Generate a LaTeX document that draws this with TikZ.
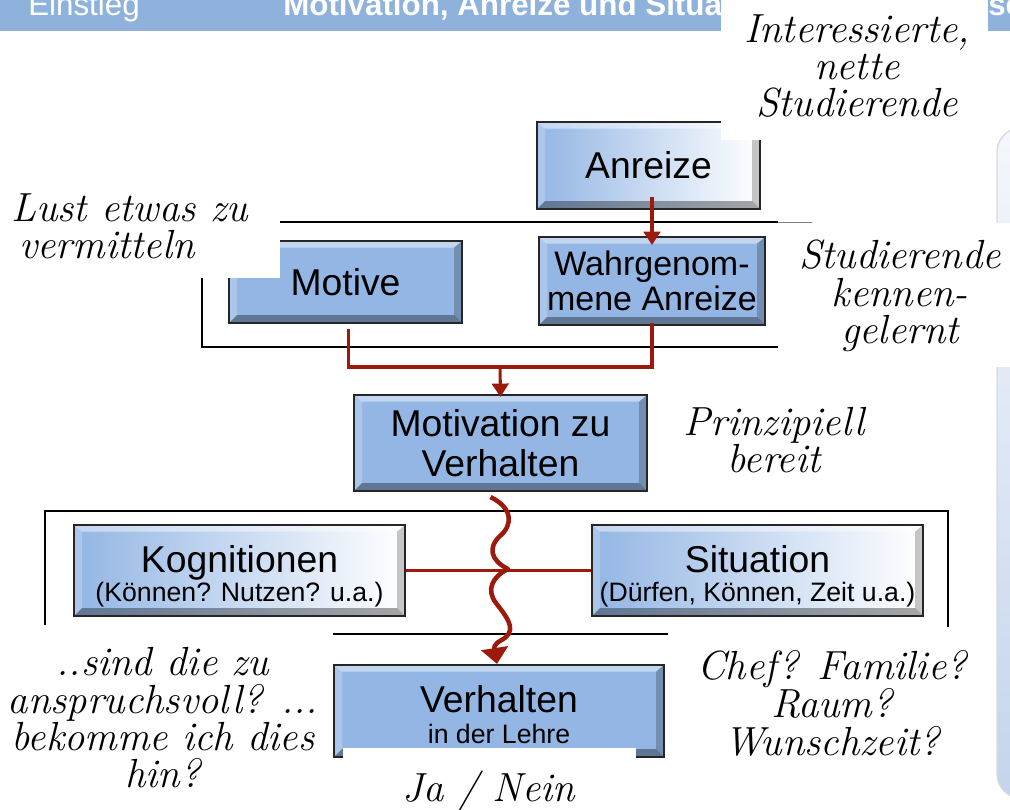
\documentclass[tikz,border=0pt]{standalone}
\usepackage{fontspec}
\newfontfamily\arialfont{Liberation Sans}
\usetikzlibrary{arrows.meta,calc}
\definecolor{boxblue}{HTML}{93B6E4}
\definecolor{boxline}{HTML}{262626}
\definecolor{conred}{HTML}{9C1A0C}
\definecolor{headblue}{HTML}{8FB2DC}
\definecolor{paneltop}{HTML}{F4F7FC}
\definecolor{panelbot}{HTML}{C4D4EC}
\newcommand\boxfont{\arialfont\fontsize{28}{29.5}\selectfont}
\newcommand\subfont{\arialfont\fontsize{20}{22}\selectfont}
\newcommand\notefont{\fontsize{30.5}{28}\selectfont\itshape}
\tikzset{
  bevelbox/.style={draw=boxline, line width=1.6pt, fill=boxblue, inner sep=0pt,
    align=center, font=\boxfont,
    path picture={
      \fill[white,opacity=.45] (path picture bounding box.north west) -- (path picture bounding box.north east)
        -- ([shift={(-6pt,-5pt)}]path picture bounding box.north east) -- ([shift={(6pt,-5pt)}]path picture bounding box.north west) -- cycle;
      \fill[white,opacity=.22] (path picture bounding box.north west) -- (path picture bounding box.south west)
        -- ([shift={(6pt,6pt)}]path picture bounding box.south west) -- ([shift={(6pt,-5pt)}]path picture bounding box.north west) -- cycle;
      \fill[black,opacity=.35] (path picture bounding box.south west) -- (path picture bounding box.south east)
        -- ([shift={(-6pt,6pt)}]path picture bounding box.south east) -- ([shift={(6pt,6pt)}]path picture bounding box.south west) -- cycle;
      \fill[black,opacity=.22] (path picture bounding box.north east) -- (path picture bounding box.south east)
        -- ([shift={(-6pt,6pt)}]path picture bounding box.south east) -- ([shift={(-6pt,-5pt)}]path picture bounding box.north east) -- cycle;
    }},
  gradbox/.style={left color=boxblue, right color=white},
  redline/.style={draw=conred, line width=2.3pt},
  redarrow/.style={redline, -{Triangle[width=12.5pt,length=10pt]}},
  wavy/.style={draw=conred, line width=3.4pt, line join=round, -{Triangle[width=20pt,length=12pt]}},
  blackline/.style={draw=black, line width=2.1pt},
  note/.style={font=\notefont, align=center, inner sep=0pt, text=black},
  headtext/.style={text=white, inner sep=0pt, anchor=base west, font=\arialfont\fontsize{23.5}{23.5}\selectfont},
}
\begin{document}
\begin{tikzpicture}[x=0.75pt,y=-0.75pt]
\useasboundingbox (0,0) rectangle (1010,810);
% header
\fill[headblue] (0,-5) rectangle (1015,31);
\node[headtext] (hd1) at (28,15) {Einstieg};
\node[headtext, font=\arialfont\bfseries\fontsize{23.5}{23.5}\selectfont] (hd2) at (283,15) {Motivation, Anreize und Situa};
% right panel
\shade[top color=paneltop, bottom color=panelbot, draw=gray!30, line width=1pt, rounded corners=18pt] (997,128) rectangle (1060,798);
% black bracket lines
\draw[blackline] (280,222) -- (778,222);
\draw[gray, line width=0.6pt] (778,222) -- (812,222);
\draw[blackline] (202,278) -- (202,347) -- (778,347);
\draw[blackline] (45,625) -- (45,511) -- (948,511) -- (948,627);
\draw[blackline] (333,634) -- (668,634);
% boxes
\node[bevelbox, gradbox, minimum width=167.25pt, minimum height=65.25pt] (anreize) at (648.5,165.5) {Anreize};
\node[bevelbox, font=\arialfont\fontsize{25.5}{26.5}\selectfont, minimum width=169.5pt, minimum height=66pt] (wahr) at (652,281) {Wahrgenom-\\mene Anreize};
\node[bevelbox, minimum width=174.75pt, minimum height=61.5pt] (motive) at (345.5,282) {Motive};
\node[bevelbox, minimum width=219.75pt, minimum height=72pt] (motivation) at (500.5,443) {Motivation zu\\Verhalten};
\node[bevelbox, gradbox, minimum width=248.25pt, minimum height=68.25pt] (kogn) at (239.5,570.5) {\rule{0pt}{29pt}Kognitionen\\[-7.5pt]{\subfont (Können? Nutzen? u.a.)}};
\node[bevelbox, gradbox, minimum width=248.25pt, minimum height=68.25pt] (situation) at (757.5,570.5) {\rule{0pt}{29pt}Situation\\[-7.5pt]{\subfont (Dürfen, Können, Zeit u.a.)}};
\node[bevelbox, minimum width=247.5pt, minimum height=69pt] (verhalten) at (499,711) {\rule{0pt}{26pt}Verhalten\\[-6pt]{\subfont in der Lehre}};
% connectors
\coordinate (j) at (500,367);
\draw[redarrow] ($(anreize.south -| wahr.north)+(0,-13)$) -- ($(wahr.north)+(0,9)$);
\draw[redline] ($(motive.south)+(3,5)$) |- (j);
\draw[redline] ($(wahr.south)+(0,-3)$) |- (j);
\draw[redarrow] (j) -- ($(motivation.north)+(0,3)$);
\draw[redline] (kogn.east) -- (situation.west);
\draw[wavy] ($(motivation.south)+(-10,5)$) .. controls (513,508) and (513,525) .. (500,536)
   .. controls (488,547) and (490,560) .. (508,569)
   .. controls (492,577) and (486,590) .. (496,603)
   .. controls (506,616) and (516,628) .. (506,637)
   .. controls (500,642) and (492,643) .. (495,651) -- ($(verhalten.north)+(-2,0)$);
% white note backgrounds
\fill[white] (721,-5) rectangle (988,140);
\fill[white] (-5,172) rectangle (280,278);
\fill[white] (790,223) rectangle (1015,367);
\fill[white] (343,748) rectangle (636,815);
\node[headtext, font=\arialfont\bfseries\fontsize{23.5}{23.5}\selectfont] (hd3) at (988,15) {se};
% notes
\node[note] (interessierte) at (857,66) {Interessierte,\\nette\\Studierende};
\node[note, align=left, anchor=west] (lust) at (11,226) {Lust etwas zu\\\hspace*{6pt}vermitteln};
\node[note] (studierende) at (900,296) {Studierende\\kennen-\\gelernt};
\node[note] (prinzipiell) at (774,440) {Prinzipiell\\bereit};
\node[note] (sind) at (163,718) {..sind die zu\\anspruchsvoll? ...\\bekomme ich dies\\hin?};
\node[note] (chef) at (832,703) {Chef? Familie?\\Raum?\\Wunschzeit?};
\node[note] (janein) at (489,791) {Ja / Nein};
\end{tikzpicture}
\end{document}
